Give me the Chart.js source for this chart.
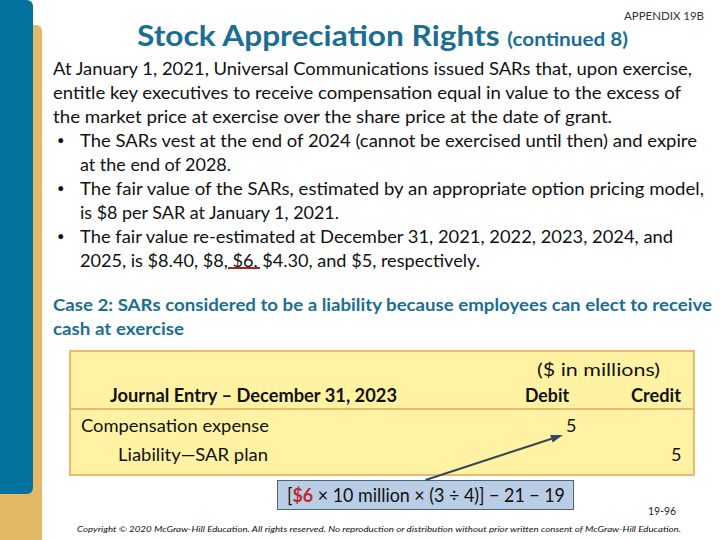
<!DOCTYPE html>
<html>
<head>
<meta charset="utf-8">
<script src="https://cdn.jsdelivr.net/npm/chart.js@4.4.1/dist/chart.umd.min.js"></script>
<style>
    html, body { margin: 0; padding: 0; background: #fff; }
    #slide { position: relative; width: 720px; height: 540px; overflow: hidden; font-family: Lato, "Open Sans", sans-serif; color: #111; }
    .bar-gold { position: absolute; left: 0; top: 25px; width: 42px; height: 520px; background: #e3b867; border-radius: 0 6px 6px 0; }
    .bar-blue { position: absolute; left: 0; top: 0; width: 33px; height: 494px; background: #03729f; border-radius: 0 6px 6px 0; }
    .ln { position: absolute; white-space: nowrap; height: 24px; line-height: 24px; transform-origin: left center; }
    .body { font-size: 18px; }
    .title { font-size: 29px; font-weight: 700; color: #1b6e93; height: 36px; line-height: 36px; }
    .title small { font-size: 19px; }
    .case { font-size: 17px; font-weight: 700; color: #1b6e93; }
    .bullet { position: absolute; font-size: 13px; line-height: 24px; }
    .jbox { position: absolute; left: 69px; top: 350px; width: 622px; height: 122px; background: #fff3a3; border: 2px solid #f0b86a; }
    .jsep { position: absolute; left: 69px; top: 408px; width: 626px; height: 2px; background: #f0b86a; }
    .fbox { position: absolute; left: 277px; top: 480px; width: 295px; height: 28px; background: #b9cde5; border: 1px solid #4b6483; }
    .b { font-weight: 700; }
    .red { color: #c0282d; font-weight: 700; }
    .uline { position: absolute; left: 228px; top: 267px; width: 32px; height: 2px; background: #a3262b; }
    #arrow { position: absolute; left: 0; top: 0; width: 720px; height: 540px; pointer-events: none; }
</style>
</head>
<body>
<div id="slide">
    <div class="bar-gold"></div>
    <div class="bar-blue"></div>

    <div class="ln" style="left:624px; top:4px; font-size:11px; color:#333;" data-w="80">APPENDIX 19B</div>
    <div class="ln title" style="left:137px; top:17px;" data-w="491">Stock Appreciation Rights <small>(continued 8)</small></div>

    <div class="ln body" style="left:53px; top:56px;" data-w="639">At January 1, 2021, Universal Communications issued SARs that, upon exercise,</div>
    <div class="ln body" style="left:53px; top:80px;" data-w="628">entitle key executives to receive compensation equal in value to the excess of</div>
    <div class="ln body" style="left:53px; top:104px;" data-w="559">the market price at exercise over the share price at the date of grant.</div>

    <div class="bullet" style="left:57px; top:128px;">•</div>
    <div class="ln body" style="left:80px; top:128px;" data-w="617">The SARs vest at the end of 2024 (cannot be exercised until then) and expire</div>
    <div class="ln body" style="left:80px; top:152px;" data-w="151">at the end of 2028.</div>

    <div class="bullet" style="left:57px; top:176px;">•</div>
    <div class="ln body" style="left:80px; top:176px;" data-w="624">The fair value of the SARs, estimated by an appropriate option pricing model,</div>
    <div class="ln body" style="left:80px; top:200px;" data-w="259">is $8 per SAR at January 1, 2021.</div>

    <div class="bullet" style="left:57px; top:224px;">•</div>
    <div class="ln body" id="fvLine1" style="left:80px; top:224px;" data-w="593"></div>
    <div class="ln body" id="fvLine2" style="left:80px; top:248px;" data-w="400"></div>
    <div class="uline"></div>

    <div class="ln case" style="left:53px; top:293px;" data-w="659">Case 2: SARs considered to be a liability because employees can elect to receive</div>
    <div class="ln case" style="left:53px; top:317px;" data-w="131">cash at exercise</div>

    <div class="jbox"></div>
    <div class="jsep"></div>
    <div class="ln body" style="left:537px; top:357px;" data-w="123">($ in millions)</div>
    <div class="ln body b" style="left:110px; top:383px;" data-w="287">Journal Entry – December 31, 2023</div>
    <div class="ln body b" style="left:525px; top:383px;" data-w="44">Debit</div>
    <div class="ln body b" style="left:631px; top:383px;" data-w="50">Credit</div>
    <div class="ln body" style="left:81px; top:413px;" data-w="188">Compensation expense</div>
    <div class="ln body" id="debitAmt" style="left:566px; top:413px;"></div>
    <div class="ln body" style="left:118px; top:442px;" data-w="150">Liability—SAR plan</div>
    <div class="ln body" id="creditAmt" style="left:671px; top:442px;"></div>

    <div class="fbox" id="fbox"></div>
    <div class="ln" id="formula" style="left:287px; top:483px; font-size:19px;" data-w="278"></div>

    <div class="ln" style="left:648px; top:499px; font-size:11px; color:#222;" data-w="28">19-96</div>
    <div class="ln" style="left:77px; top:517px; font-size:8.5px; font-style:italic; color:#111;" data-w="604">Copyright © 2020 McGraw-Hill Education. All rights reserved. No reproduction or distribution without prior written consent of McGraw-Hill Education.</div>

    <canvas id="arrow" width="720" height="540"></canvas>
</div>

<script>
    // fair value per SAR at each December 31
    const fairValueYears = [2021, 2022, 2023, 2024, 2025];
    const fairValueLabels = ['$8.40', '$8', '$6', '$4.30', '$5'];
    const fairValue2023 = 6;
    const sarsMillions = 10;
    const yearsServed = 3;
    const vestingYears = 4;
    const priorExpense = [21, 19];
    const debitAmount = 5;
    const creditAmount = 5;

    document.getElementById('fvLine1').textContent =
        'The fair value re-estimated at December 31, ' + fairValueYears.slice(0, 4).join(', ') + ', and';
    document.getElementById('fvLine2').textContent =
        fairValueYears[4] + ', is ' + fairValueLabels.slice(0, 4).join(', ') + ', and ' + fairValueLabels[4] + ', respectively.';
    document.getElementById('debitAmt').textContent = debitAmount;
    document.getElementById('creditAmt').textContent = creditAmount;
    document.getElementById('formula').innerHTML =
        '[<span class="red">$' + fairValue2023 + '</span> × ' + sarsMillions + ' million × (' + yearsServed + ' ÷ ' + vestingYears + ')] − ' + priorExpense.join(' − ');

    // stretch each line to the width it has on the slide
    document.querySelectorAll('[data-w]').forEach(el => {
        let w = el.getBoundingClientRect().width;
        let target = parseFloat(el.dataset.w);
        el.style.transform = 'scaleX(' + (target / w).toFixed(4) + ')';
    });

    // arrow from the formula box up to the debit amount
    const slideRect = document.getElementById('slide').getBoundingClientRect();
    const fRect = document.getElementById('fbox').getBoundingClientRect();
    const dRect = document.getElementById('debitAmt').getBoundingClientRect();
    const arrowFrom = { x: fRect.left - slideRect.left + fRect.width * 0.5, y: fRect.top - slideRect.top };
    const arrowTo = { x: dRect.left - slideRect.left - 6, y: dRect.bottom - slideRect.top - 1 };

    const arrowHead = {
        id: 'arrowHead',
        afterDatasetsDraw(chart) {
            let pts = chart.getDatasetMeta(0).data;
            let a = pts[0], b = pts[pts.length - 1];
            let ang = Math.atan2(b.y - a.y, b.x - a.x);
            let ctx = chart.ctx;
            ctx.save();
            ctx.fillStyle = '#33475e';
            ctx.beginPath();
            ctx.moveTo(b.x + 3 * Math.cos(ang), b.y + 3 * Math.sin(ang));
            ctx.lineTo(b.x - 9 * Math.cos(ang) + 4 * Math.sin(ang), b.y - 9 * Math.sin(ang) - 4 * Math.cos(ang));
            ctx.lineTo(b.x - 9 * Math.cos(ang) - 4 * Math.sin(ang), b.y - 9 * Math.sin(ang) + 4 * Math.cos(ang));
            ctx.closePath();
            ctx.fill();
            ctx.restore();
        }
    };

    new Chart(document.getElementById('arrow'), {
        type: 'line',
        data: {
            datasets: [{
                data: [arrowFrom, arrowTo],
                borderColor: '#33475e',
                borderWidth: 2,
                pointRadius: 0,
                fill: false
            }]
        },
        options: {
            responsive: false,
            animation: false,
            layout: { padding: 0 },
            plugins: { legend: { display: false }, tooltip: { enabled: false } },
            scales: {
                x: { type: 'linear', min: 0, max: 720, display: false },
                y: { type: 'linear', min: 0, max: 540, reverse: true, display: false }
            }
        },
        plugins: [arrowHead]
    });
</script>
</body>
</html>
